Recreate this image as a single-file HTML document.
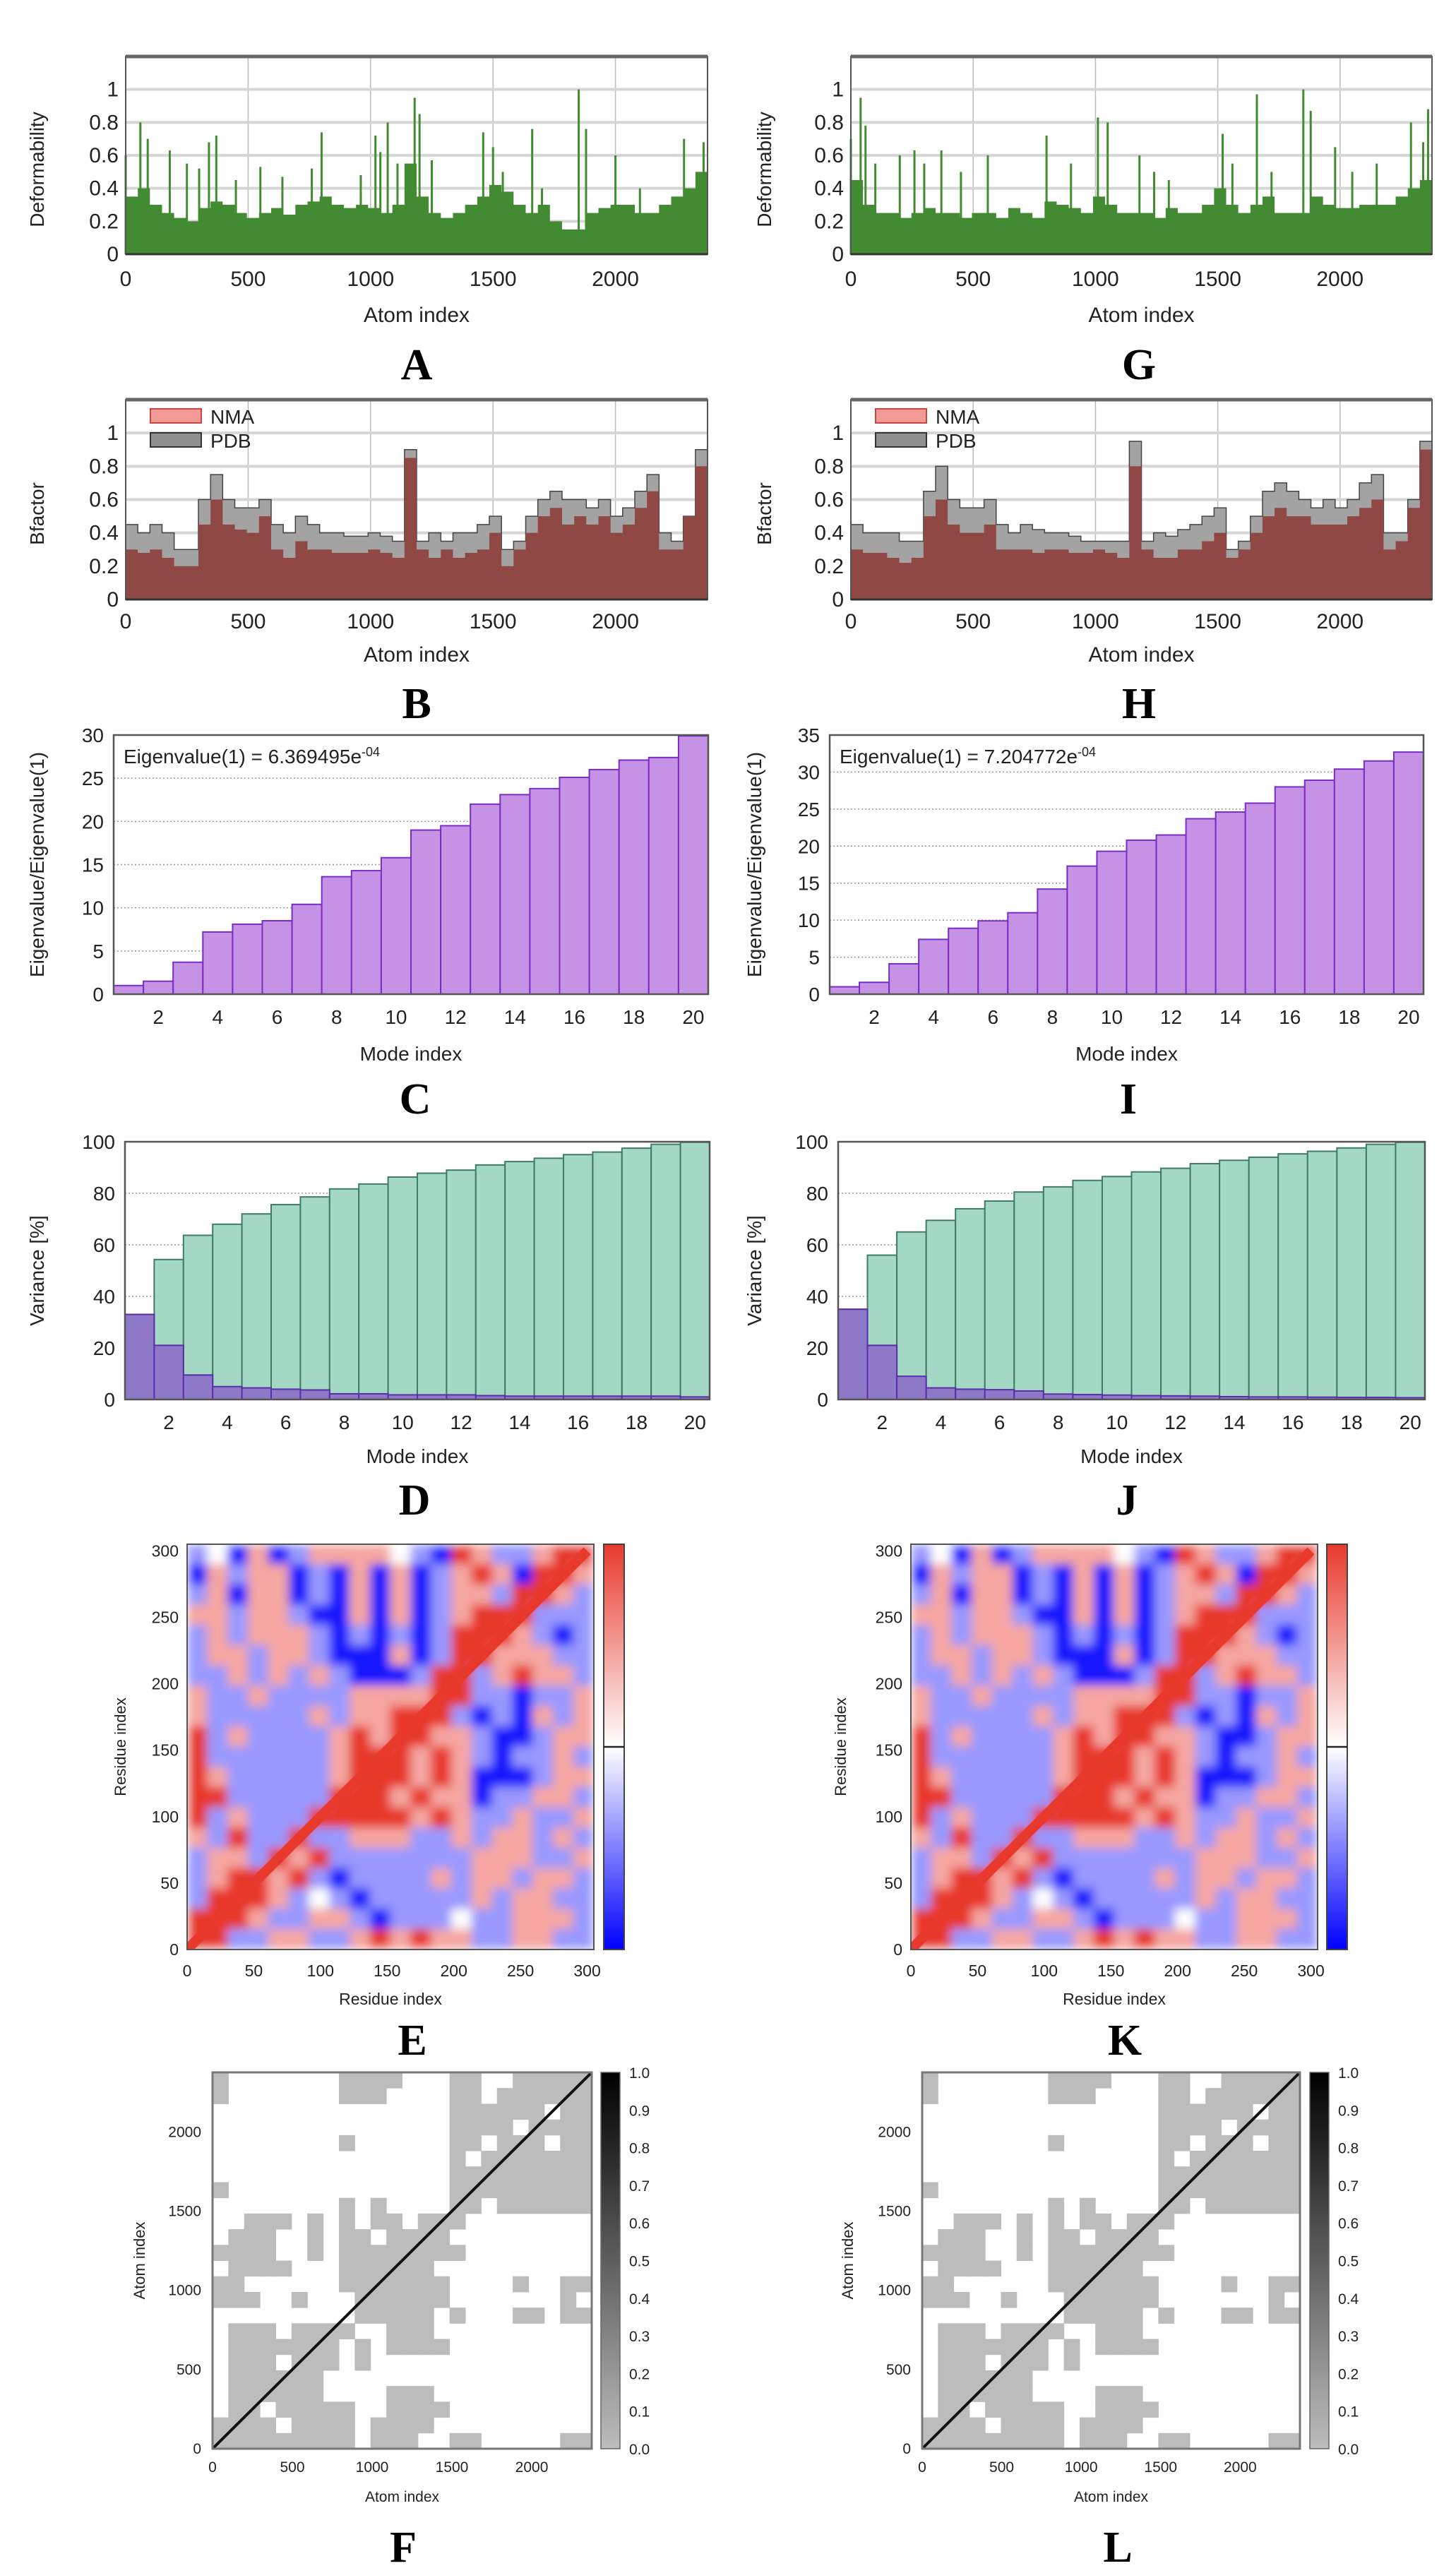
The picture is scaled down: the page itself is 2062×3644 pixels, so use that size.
<!DOCTYPE html>
<html><head><meta charset="utf-8">
<style>
html,body{margin:0;padding:0;background:#fff;}
svg{display:block;}
text{font-family:"Liberation Sans",sans-serif;fill:#222;}
.nar{font-family:"Liberation Sans Narrow","Liberation Sans",sans-serif;}
.let{font-family:"Liberation Serif",serif;font-weight:bold;fill:#000;}
</style></head>
<body>
<svg id="fig" width="2062" height="3644" viewBox="0 0 2062 3644" xmlns="http://www.w3.org/2000/svg">
<defs>
<filter id="blurE" x="0" y="0" width="1" height="1"><feGaussianBlur stdDeviation="7"/></filter>
<linearGradient id="rwb" x1="0" y1="0" x2="0" y2="1"><stop offset="0" stop-color="#e8392c"/><stop offset="0.5" stop-color="#ffffff"/><stop offset="1" stop-color="#0000ff"/></linearGradient>
<linearGradient id="gry" x1="0" y1="0" x2="0" y2="1"><stop offset="0" stop-color="#000"/><stop offset="1" stop-color="#bdbdbd"/></linearGradient>
<clipPath id="clipE"><rect x="265" y="2187" width="576" height="574"/></clipPath>
<clipPath id="clipK"><rect x="1290" y="2187" width="576" height="574"/></clipPath>
</defs>
</svg>
<script>
// ---------- DATA ----------
const defBinsA = [0.35,0.4,0.3,0.25,0.22,0.2,0.28,0.32,0.3,0.25,0.22,0.25,0.28,0.24,0.3,0.32,0.35,0.3,0.28,0.3,0.28,0.25,0.3,0.55,0.35,0.25,0.22,0.25,0.3,0.35,0.42,0.38,0.3,0.25,0.3,0.2,0.15,0.15,0.25,0.28,0.3,0.3,0.25,0.25,0.3,0.35,0.4,0.5];
const defPeakXA = [0,60,90,180,250,300,340,370,450,550,640,760,800,960,1020,1040,1070,1110,1180,1200,1250,1460,1500,1540,1660,1700,1850,1880,2000,2100,2280,2360];
const defPeakYA = [0.6,0.8,0.7,0.63,0.55,0.52,0.68,0.72,0.45,0.53,0.47,0.52,0.74,0.48,0.72,0.62,0.8,0.55,0.95,0.85,0.57,0.74,0.65,0.5,0.76,0.4,1.0,0.76,0.6,0.4,0.7,0.68];
const defBinsG = [0.45,0.3,0.25,0.25,0.22,0.25,0.28,0.25,0.25,0.22,0.25,0.25,0.22,0.28,0.25,0.22,0.32,0.3,0.28,0.25,0.35,0.3,0.25,0.25,0.25,0.22,0.28,0.25,0.25,0.3,0.4,0.3,0.25,0.3,0.35,0.25,0.25,0.25,0.35,0.3,0.28,0.28,0.3,0.3,0.3,0.35,0.4,0.45];
const defPeakXG = [0,40,60,100,200,260,300,370,450,560,800,900,1010,1050,1180,1240,1300,1520,1560,1660,1720,1850,1880,1980,2050,2150,2290,2340,2360];
const defPeakYG = [0.7,0.95,0.78,0.55,0.6,0.63,0.55,0.63,0.5,0.6,0.72,0.55,0.83,0.8,0.6,0.5,0.45,0.73,0.55,0.97,0.5,1.0,0.87,0.65,0.5,0.55,0.8,0.68,0.88];
const nmaB = [0.3,0.28,0.3,0.25,0.2,0.2,0.45,0.6,0.45,0.42,0.4,0.5,0.3,0.25,0.35,0.3,0.3,0.28,0.28,0.28,0.3,0.28,0.25,0.85,0.3,0.25,0.3,0.25,0.28,0.3,0.4,0.2,0.3,0.4,0.5,0.55,0.45,0.5,0.45,0.5,0.4,0.45,0.55,0.65,0.3,0.3,0.5,0.8];
const pdbB = [0.45,0.4,0.45,0.4,0.3,0.3,0.6,0.75,0.6,0.55,0.55,0.6,0.45,0.4,0.5,0.45,0.4,0.4,0.38,0.38,0.4,0.38,0.35,0.9,0.35,0.4,0.35,0.4,0.4,0.45,0.5,0.3,0.35,0.5,0.6,0.65,0.6,0.6,0.55,0.6,0.5,0.55,0.65,0.75,0.4,0.35,0.5,0.9];
const nmaH = [0.3,0.28,0.28,0.25,0.22,0.25,0.5,0.6,0.45,0.4,0.4,0.45,0.3,0.3,0.3,0.28,0.3,0.3,0.28,0.28,0.3,0.28,0.25,0.8,0.3,0.25,0.25,0.3,0.3,0.35,0.4,0.25,0.3,0.4,0.5,0.55,0.5,0.5,0.45,0.45,0.45,0.5,0.55,0.6,0.3,0.35,0.55,0.9];
const pdbH = [0.45,0.4,0.4,0.4,0.35,0.35,0.65,0.8,0.6,0.55,0.55,0.6,0.45,0.4,0.45,0.42,0.4,0.4,0.38,0.35,0.35,0.35,0.35,0.95,0.35,0.4,0.38,0.42,0.45,0.5,0.55,0.3,0.35,0.5,0.65,0.7,0.65,0.6,0.55,0.6,0.55,0.6,0.7,0.75,0.4,0.4,0.6,0.95];
const modes = [1,2,3,4,5,6,7,8,9,10,11,12,13,14,15,16,17,18,19,20];
const eigC = [1,1.5,3.7,7.2,8.1,8.5,10.4,13.6,14.3,15.8,19,19.5,22,23.1,23.8,25.1,26,27.1,27.4,29.9];
const eigI = [1,1.6,4.1,7.4,8.9,9.9,11,14.2,17.3,19.3,20.8,21.5,23.7,24.6,25.8,28,28.9,30.4,31.5,32.7];
const cumD = [33,54.3,63.7,68,72,75.6,78.6,81.7,83.6,86.3,87.8,89,91,92.3,93.6,95,96,97.5,99,99.8];
const indD = [33,21,9.5,5,4.5,4,3.7,2.2,2.2,1.8,1.8,1.8,1.5,1.3,1.3,1.3,1.3,1.3,1.3,1.0];
const cumJ = [35,56,65,69.5,74,77,80.5,82.5,85,86.5,88.3,89.7,91.5,92.8,94,95.3,96.3,97.6,99,99.8];
const indJ = [35,21,9,4.5,4,3.8,3.3,2.1,1.9,1.7,1.5,1.4,1.3,1.1,1.0,1.0,0.9,0.8,0.8,0.7];
const corrRows = [
"bwBrBbrrrrwbBRrbbrRR","BrbrrBbBrBrBbrRrBRRr","brBrrBbBrBrBbrrbRRrb","rrbrrbBBrBrBbrRRRbbb",
"brbrrrbBbBbBbRRRrbBb","brrbrrbBBBrBbRRrrrbb","bbrbrbrbBBBbRRbrRrrb","rbbrbbbbrrrrRRbbBbbr",
"rbbbbbrbrrRRRbBbBrbr","RbrbbbbrRrRRrrbBBbrr","RbbbbbbrRRRrRrbBbbrb","RrbbbbbrRRRrRrBBBbrr",
"RRbbbbbRRRrRrrBbbrrb","RbrbbbRRRRRrRrbbrbbr","rbRbbRbbrrrbbrbrrbrb","brrbRrRbbbbbbbrrrbbr",
"brRRrRbBbbbbrbrrbrrb","bRRRrbwbBbbbbbrbrrbb","RRRrbbrrbBbbbwbbrrrb","RRbbrrbbrRrRrrbbrrbb"];
const contactRows = [
"#.......####...##..#####","#.......###....##.######","...............######.##","...............####.####",
"........#......##.###.##","...............#.#######","...............#########","#..............#########",
"........#.#....##.######","..###.#.#.##.###........",".###..#.##.####.........","####..#.########........",
".####...######..........","##......#######....#..##","###..#...######.......#.",".........#####.#...##.##",
".###.####..###..........",".#######.#.####.........",".###.###.#..............",".######.................",
".######....###..........",".##.#####..####.........","####.####.####..........","#########.###..##.....##"];
const corrVal = {R:1,r:0.45,w:0,b:-0.45,B:-1};
const xTicksAtom = [0,500,1000,1500,2000];
const yTicksDef = [0,0.2,0.4,0.6,0.8,1];
const yTickLabelsDef = ["0","0.2","0.4","0.6","0.8","1"];
const yTicksEigC = [0,5,10,15,20,25,30];
const yTicksEigI = [0,5,10,15,20,25,30,35];
const yTicksVar = [0,20,40,60,80,100];
const xTicksMode = [2,4,6,8,10,12,14,16,18,20];
const resTicks = [0,50,100,150,200,250,300];
const cbTicks = ["0.0","0.1","0.2","0.3","0.4","0.5","0.6","0.7","0.8","0.9","1.0"];

// ---------- HELPERS ----------
const NS='http://www.w3.org/2000/svg';
const svg=document.getElementById('fig');
function mk(tag,attrs,parent){const e=document.createElementNS(NS,tag);for(const k in attrs)e.setAttribute(k,attrs[k]);(parent||svg).appendChild(e);return e;}
function sx(p,v){return p.x0+(v-p.xmin)/(p.xmax-p.xmin)*(p.x1-p.x0);}
function sy(p,v){return p.y0-(v-p.ymin)/(p.ymax-p.ymin)*(p.y0-p.yT);}
function txt(s,x,y,size,anchor,parent,cls){const t=mk('text',{x:x,y:y,'font-size':size,'text-anchor':anchor||'middle'},parent);if(cls)t.setAttribute('class',cls);t.textContent=s;return t;}

// ---------- ATOM PROFILE PANELS (A,G,B,H) ----------
function atomFrame(p,ylabel,ylx,letter,letX,letY,tickY,labY){
  const g=mk('g',{});
  
  
  p.g=g;
  for(const v of xTicksAtom){const l=mk('line',{x1:sx(p,v),x2:sx(p,v),y1:p.yT,y2:p.y0,stroke:'#bbb','stroke-width':1.5},g);
    
    }
  for(let i=1;i<yTicksDef.length;i++){const v=yTicksDef[i];const l=mk('line',{x1:p.x0,x2:p.x1,y1:sy(p,v),y2:sy(p,v),stroke:'#d6d6d6','stroke-width':4},g);
    
    }
  for(let i=0;i<yTicksDef.length;i++){const t=txt(yTickLabelsDef[i],p.x0-10,sy(p,yTicksDef[i])+10,30,'end',g,'nar');
    
    }
  for(const v of xTicksAtom){const t=txt(String(v),sx(p,v),tickY,30,'middle',g,'nar');
    
    }
  const xt=txt('Atom index',(p.x0+p.x1)/2,labY,30,'middle',g,'nar');
  
  
  const yt=txt(ylabel,0,0,28,'middle',g);
  yt.setAttribute('transform','translate('+ylx+','+((p.yT+p.y0)/2+20)+') rotate(-90)');
  
  
  const lt=txt(letter,letX,letY,62,'middle',svg,'let');
  
  
}
function atomBorder(p){
  const b=mk('rect',{x:p.x0,y:p.yT,width:p.x1-p.x0,height:p.y0-p.yT,fill:'none',stroke:'#555','stroke-width':2},p.g);
  
  
  const t=mk('line',{x1:p.x0,x2:p.x1,y1:p.yT,y2:p.yT,stroke:'#666','stroke-width':5},p.g);
  
  
  const bt=mk('line',{x1:p.x0,x2:p.x1,y1:p.y0,y2:p.y0,stroke:'#333','stroke-width':3},p.g);
  
  
}
function stepPath(p,vals){const w=p.xmax/vals.length;let d='M'+sx(p,0)+','+sy(p,0);
  vals.forEach((v,i)=>{d+=' L'+sx(p,i*w)+','+sy(p,v)+' L'+sx(p,(i+1)*w)+','+sy(p,v);});
  return d+' L'+sx(p,p.xmax)+','+sy(p,0)+' Z';}
function deformPanel(p,bins,px,py){
  const a=mk('path',{d:stepPath(p,bins),fill:'#438b33'},p.g);
  
  
  for(let i=0;i<px.length;i++){const l=mk('line',{x1:sx(p,px[i]),x2:sx(p,px[i]),y1:sy(p,0),y2:sy(p,py[i]),stroke:'#438b33','stroke-width':3},p.g);
    
    }
}
function bfactorPanel(p,nma,pdb){
  const a=mk('path',{d:stepPath(p,pdb),fill:'#a3a3a3',stroke:'#444','stroke-width':1.5},p.g);
  
  
  const b=mk('path',{d:stepPath(p,nma),fill:'#8f4844'},p.g);
  
  
  const s1=mk('rect',{x:p.x0+35,y:p.yT+13,width:72,height:20,fill:'#f29a95',stroke:'#c44','stroke-width':2},p.g);
  
  
  const t1=txt('NMA',p.x0+120,p.yT+34,28,'start',p.g,'nar');
  
  
  const s2=mk('rect',{x:p.x0+35,y:p.yT+47,width:72,height:20,fill:'#8f8f8f',stroke:'#333','stroke-width':2},p.g);
  
  
  const t2=txt('PDB',p.x0+120,p.yT+68,28,'start',p.g,'nar');
  
  
}
const pA={x0:178,x1:1002,yT:80,y0:360,xmin:0,xmax:2376,ymin:0,ymax:1.2};
const pG={x0:1205,x1:2028,yT:80,y0:360,xmin:0,xmax:2376,ymin:0,ymax:1.2};
const pB={x0:178,x1:1002,yT:566,y0:849,xmin:0,xmax:2376,ymin:0,ymax:1.2};
const pH={x0:1205,x1:2028,yT:566,y0:849,xmin:0,xmax:2376,ymin:0,ymax:1.2};
atomFrame(pA,'Deformability',62,'A',590,537,405,456);deformPanel(pA,defBinsA,defPeakXA,defPeakYA);atomBorder(pA);
atomFrame(pG,'Deformability',1092,'G',1613,537,405,456);deformPanel(pG,defBinsG,defPeakXG,defPeakYG);atomBorder(pG);
atomFrame(pB,'Bfactor',62,'B',590,1017,890,937);bfactorPanel(pB,nmaB,pdbB);atomBorder(pB);
atomFrame(pH,'Bfactor',1092,'H',1613,1017,890,937);bfactorPanel(pH,nmaH,pdbH);atomBorder(pH);

// ---------- MODE PANELS (C,I,D,J) ----------
function modeFrame(p,yticks,ylabel,ylx,letter,letX,tickY,labY,letY){
  const g=mk('g',{});
  
  
  p.g=g;
  for(const v of yticks){
    if(v>p.ymin&&v<p.ymax){const l=mk('line',{x1:p.x0,x2:p.x1,y1:sy(p,v),y2:sy(p,v),stroke:'#999','stroke-width':1.5,'stroke-dasharray':'2,3'},g);
      
      }
    const t=txt(String(v),p.x0-14,sy(p,v)+10,28,'end',g);
    
    
  }
  for(const v of xTicksMode){const t=txt(String(v),sx(p,v),tickY,28,'middle',g);
    
    }
  const xt=txt('Mode index',(p.x0+p.x1)/2,labY,28,'middle',g);
  
  
  const yt=txt(ylabel,0,0,28,'middle',g);
  yt.setAttribute('transform','translate('+ylx+','+((p.yT+p.y0)/2)+') rotate(-90)');
  
  
  const lt=txt(letter,letX,letY,62,'middle',svg,'let');
  
  
}
function modeBorder(p){
  const b=mk('rect',{x:p.x0,y:p.yT,width:p.x1-p.x0,height:p.y0-p.yT,fill:'none',stroke:'#555','stroke-width':2.5},p.g);
  
  
}
function eigenPanel(p,vals,label,exp){
  for(let i=0;i<modes.length;i++){const x=sx(p,modes[i]-0.5),w=sx(p,modes[i]+0.5)-x;
    const r=mk('rect',{x:x,y:sy(p,vals[i]),width:w,height:sy(p,0)-sy(p,vals[i]),fill:'#c592e6',stroke:'#7a2dc4','stroke-width':2},p.g);
    
    }
  const t=txt(label,p.x0+14,p.yT+40,28,'start',p.g);
  
  
  const ts=mk('tspan',{dy:-10,'font-size':18},t);ts.textContent=exp;
}
function variancePanel(p,cum,ind){
  for(let i=0;i<modes.length;i++){const x=sx(p,modes[i]-0.5),w=sx(p,modes[i]+0.5)-x;
    const r=mk('rect',{x:x,y:sy(p,cum[i]),width:w,height:sy(p,0)-sy(p,cum[i]),fill:'#a3d8c5',stroke:'#3f7c64','stroke-width':2},p.g);
    
    }
  for(let i=0;i<modes.length;i++){const x=sx(p,modes[i]-0.5),w=sx(p,modes[i]+0.5)-x;
    const r=mk('rect',{x:x,y:sy(p,ind[i]),width:w,height:sy(p,0)-sy(p,ind[i]),fill:'#8e78c8',stroke:'#5a2ea8','stroke-width':2},p.g);
    
    }
}
const pC={x0:161,x1:1003,yT:1041,y0:1408,xmin:0.5,xmax:20.5,ymin:0,ymax:30};
const pI={x0:1175,x1:2016,yT:1041,y0:1408,xmin:0.5,xmax:20.5,ymin:0,ymax:35};
const pD={x0:177,x1:1005,yT:1617,y0:1982,xmin:0.5,xmax:20.5,ymin:0,ymax:100};
const pJ={x0:1187,x1:2018,yT:1617,y0:1982,xmin:0.5,xmax:20.5,ymin:0,ymax:100};
modeFrame(pC,yTicksEigC,'Eigenvalue/Eigenvalue(1)',62,'C',588,1450,1502,1577);eigenPanel(pC,eigC,'Eigenvalue(1) = 6.369495e','-04');modeBorder(pC);
modeFrame(pI,yTicksEigI,'Eigenvalue/Eigenvalue(1)',1078,'I',1598,1450,1502,1577);eigenPanel(pI,eigI,'Eigenvalue(1) = 7.204772e','-04');modeBorder(pI);
modeFrame(pD,yTicksVar,'Variance [%]',62,'D',587,2024,2072,2145);variancePanel(pD,cumD,indD);modeBorder(pD);
modeFrame(pJ,yTicksVar,'Variance [%]',1078,'J',1596,2024,2072,2145);variancePanel(pJ,cumJ,indJ);modeBorder(pJ);

// ---------- CORRELATION MAPS (E,K) ----------
function corrColor(v){if(v>=0){const t=v;return 'rgb('+Math.round(255-t*23)+','+Math.round(255-t*198)+','+Math.round(255-t*211)+')';}
  const t=-v;return 'rgb('+Math.round(255-t*230)+','+Math.round(255-t*230)+',255)';}
function corrPanel(p,clip,cbx,letter,letX,ylx){
  const g=mk('g',{});
  
  
  const hm=mk('g',{'clip-path':'url(#'+clip+')'},g);
  
  
  const inner=mk('g',{filter:'url(#blurE)'},hm);
  const n=corrRows.length,step=p.xmax/n;
  mk('rect',{x:p.x0-20,y:p.yT-20,width:p.x1-p.x0+40,height:p.y0-p.yT+40,fill:'#fff'},inner);
  for(let r=0;r<n;r++){for(let c=0;c<n;c++){const v=corrVal[corrRows[r][c]];
    const y1=p.xmax-r*step;
    const x=sx(p,c*step),y=sy(p,y1),w=sx(p,(c+1)*step)-x,h=sy(p,y1-step)-y;
    const e=mk('rect',{x:x-0.5,y:y-0.5,width:w+1,height:h+1,fill:corrColor(v)},inner);
    
    }}
  const dg=mk('line',{x1:sx(p,0),y1:sy(p,0),x2:sx(p,300),y2:sy(p,300),stroke:'#e8392c','stroke-width':14},hm);
  
  
  const b=mk('rect',{x:p.x0,y:p.yT,width:p.x1-p.x0,height:p.y0-p.yT,fill:'none',stroke:'#555','stroke-width':2},g);
  
  
  const cb=mk('rect',{x:cbx,y:p.yT,width:29,height:p.y0-p.yT,fill:'url(#rwb)',stroke:'#444','stroke-width':2},g);
  
  
  const cl=mk('line',{x1:cbx,x2:cbx+29,y1:(p.yT+p.y0)/2,y2:(p.yT+p.y0)/2,stroke:'#222','stroke-width':2.5},g);
  
  
  for(const v of resTicks){
    const t=txt(String(v),sx(p,v),p.y0+38,23,'middle',g);
    
    
    const u=txt(String(v),p.x0-12,sy(p,v)+8,23,'end',g);
    
    
  }
  const xt=txt('Residue index',(p.x0+p.x1)/2,p.y0+78,23,'middle',g);
  
  
  const yt=txt('Residue index',0,0,22,'middle',g,'nar');
  yt.setAttribute('transform','translate('+ylx+','+((p.yT+p.y0)/2)+') rotate(-90)');
  
  
  const lt=txt(letter,letX,2910,62,'middle',svg,'let');
  
  
}
const pE={x0:265,x1:841,yT:2187,y0:2761,xmin:0,xmax:305,ymin:0,ymax:305};
const pK={x0:1290,x1:1866,yT:2187,y0:2761,xmin:0,xmax:305,ymin:0,ymax:305};
corrPanel(pE,'clipE',855,'E',584,178);
corrPanel(pK,'clipK',1879,'K',1593,1198);

// ---------- CONTACT MAPS (F,L) ----------
function contactPanel(p,cbx,letter,letX,ylx){
  const g=mk('g',{});
  
  
  const n=contactRows.length,step=p.xmax/n;
  for(let r=0;r<n;r++){for(let c=0;c<n;c++){if(contactRows[r][c]!=='#')continue;
    const y1=p.xmax-r*step;
    const x=sx(p,c*step),y=sy(p,y1),w=sx(p,(c+1)*step)-x,h=sy(p,y1-step)-y;
    const e=mk('rect',{x:x,y:y,width:w+0.5,height:h+0.5,fill:'#bcbcbc'},g);
    
    }}
  const dg=mk('line',{x1:sx(p,0),y1:sy(p,0),x2:sx(p,p.xmax),y2:sy(p,p.xmax),stroke:'#111','stroke-width':4},g);
  
  
  const b=mk('rect',{x:p.x0,y:p.yT,width:p.x1-p.x0,height:p.y0-p.yT,fill:'none',stroke:'#777','stroke-width':3},g);
  
  
  const cb=mk('rect',{x:cbx,y:p.yT,width:27,height:p.y0-p.yT,fill:'url(#gry)',stroke:'#666','stroke-width':1.5},g);
  
  
  for(let i=0;i<cbTicks.length;i++){const y=p.y0-i*(p.y0-p.yT)/10;
    const t=txt(cbTicks[i],cbx+40,y+8,21,'start',g);
    
    }
  for(const v of xTicksAtom){
    const t=txt(String(v),sx(p,v),p.y0+33,21,'middle',g);
    
    
    const u=txt(String(v),p.x0-16,sy(p,v)+7,21,'end',g);
    
    
  }
  const xt=txt('Atom index',(p.x0+p.x1)/2,p.y0+75,21,'middle',g);
  
  
  const yt=txt('Atom index',0,0,22,'middle',g,'nar');
  yt.setAttribute('transform','translate('+ylx+','+((p.yT+p.y0)/2)+') rotate(-90)');
  
  
  const lt=txt(letter,letX,3628,62,'middle',svg,'let');
  
  
}
const pF={x0:301,x1:838,yT:2935,y0:3468,xmin:0,xmax:2376,ymin:0,ymax:2376};
const pL={x0:1306,x1:1841,yT:2935,y0:3468,xmin:0,xmax:2376,ymin:0,ymax:2376};
contactPanel(pF,851,'F',571,205);
contactPanel(pL,1855,'L',1583,1208);
</script>
</body></html>
